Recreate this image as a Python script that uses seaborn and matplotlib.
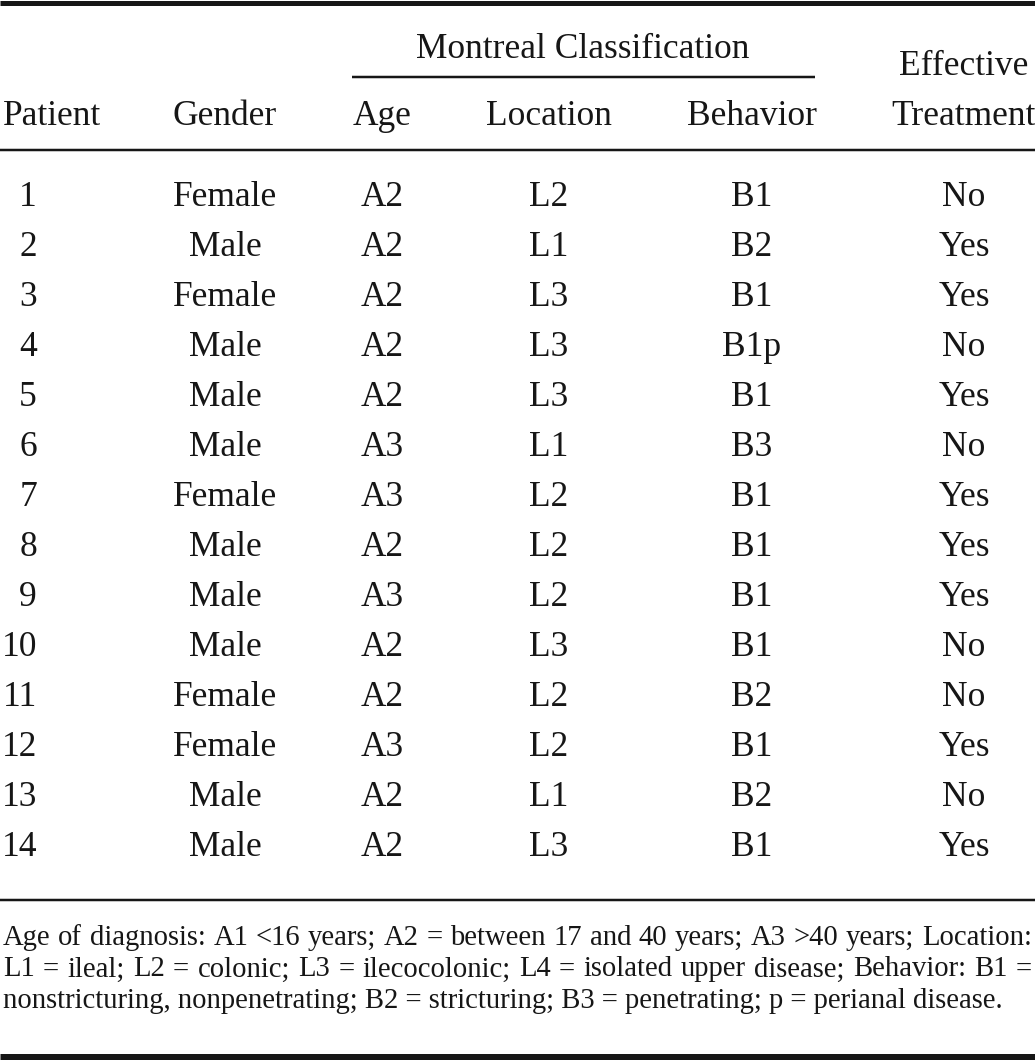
import matplotlib.pyplot as plt
import pandas as pd
import seaborn as sns

sns.set_theme(style="white")
plt.rcParams["font.family"] = ["Liberation Serif", "DejaVu Serif"]

# table data
patients = list(range(1, 15))
genders = ["Female", "Male", "Female", "Male", "Male", "Male", "Female",
           "Male", "Male", "Male", "Female", "Female", "Male", "Male"]
ages = ["A2", "A2", "A2", "A2", "A2", "A3", "A3",
        "A2", "A3", "A2", "A2", "A3", "A2", "A2"]
locations = ["L2", "L1", "L3", "L3", "L3", "L1", "L2",
             "L2", "L2", "L3", "L2", "L2", "L1", "L3"]
behaviors = ["B1", "B2", "B1", "B1p", "B1", "B3", "B1",
             "B1", "B1", "B1", "B2", "B1", "B2", "B1"]
effective = ["No", "Yes", "Yes", "No", "Yes", "No", "Yes",
             "Yes", "Yes", "No", "No", "Yes", "No", "Yes"]

headers = ["Patient", "Gender", "Age", "Location", "Behavior", "Treatment"]
group_header = "Montreal Classification"
footnote = [
    "Age of diagnosis: A1 <16 years; A2 = between 17 and 40 years; A3 >40 years; Location:",
    "L1 = ileal; L2 = colonic; L3 = ilecocolonic; L4 = isolated upper disease; Behavior: B1 =",
    "nonstricturing, nonpenetrating; B2 = stricturing; B3 = penetrating; p = perianal disease.",
]

df = pd.DataFrame({
    "Patient": patients, "Gender": genders, "Age": ages,
    "Location": locations, "Behavior": behaviors, "Treatment": effective,
})

W, H = 1035, 1060
INK = "#161616"
fig = plt.figure(figsize=(W / 100, H / 100), dpi=100)
ax = fig.add_axes([0, 0, 1, 1])
ax.set_xlim(0, W)
ax.set_ylim(H, 0)
ax.axis("off")

body_size = 25.5
note_size = 20.6
col_x = {"Gender": 225, "Age": 382, "Location": 549, "Behavior": 752, "Treatment": 964}

# rules
def rule(y, lw_px, x0=0, x1=W):
    ax.plot([x0, x1], [y, y], color=INK, lw=lw_px * 0.72, solid_capstyle="butt")

rule(2.5, 5)
rule(77, 2.5, 352, 815)
rule(150, 2.5)
rule(900, 2.5)
rule(1056.5, 7)

# header
ax.text(583, 58, group_header, ha="center", va="baseline", fontsize=body_size, color=INK)
ax.text(964, 75, "Effective", ha="center", va="baseline", fontsize=body_size, color=INK)
ax.text(3, 125, headers[0], ha="left", va="baseline", fontsize=body_size, color=INK)
for h in headers[1:]:
    ax.text(col_x[h], 125, h, ha="center", va="baseline", fontsize=body_size, color=INK)

# body rows
first_base, step = 206.5, 50.0
for i, row in df.iterrows():
    y = first_base + i * step
    ax.text(37, y, str(row["Patient"]), ha="right", va="baseline",
            fontsize=body_size, color=INK)
    for c in headers[1:]:
        ax.text(col_x[c], y, row[c], ha="center", va="baseline",
                fontsize=body_size, color=INK)

# footnote, first two lines justified
renderer = fig.canvas.get_renderer()
note_base, note_step = 945, 31.5
for k, line in enumerate(footnote):
    y = note_base + k * note_step
    if k == len(footnote) - 1:
        ax.text(3, y, line, ha="left", va="baseline", fontsize=note_size, color=INK)
        continue
    words = line.split(" ")
    texts = [ax.text(0, y, w, ha="left", va="baseline", fontsize=note_size, color=INK)
             for w in words]
    widths = [t.get_window_extent(renderer).width for t in texts]
    gap = (W - 3 - 3 - sum(widths)) / (len(words) - 1)
    x = 3
    for t, w in zip(texts, widths):
        t.set_x(x)
        x += w + gap

fig.savefig("out.png", dpi=100, facecolor="white")
